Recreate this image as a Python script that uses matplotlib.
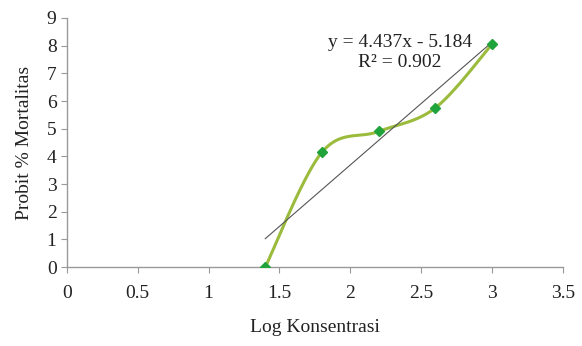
import numpy as np
import matplotlib.pyplot as plt

plt.rcParams['font.family'] = ['Liberation Serif', 'DejaVu Serif']

log_konsentrasi = [1.4, 1.8, 2.2, 2.6, 3.0]
probit = [0.0, 4.15, 4.9, 5.75, 8.05]
slope, intercept = 4.437, -5.184
r2 = 0.902


def excel_smooth(x, y, n=40):
    # Excel-like smoothed line: cubic Bezier with Catmull-Rom control points
    x = np.asarray(x, float)
    y = np.asarray(y, float)
    px, py = [], []
    for i in range(len(x) - 1):
        x0, y0 = (x[i - 1], y[i - 1]) if i > 0 else (x[i], y[i])
        x3, y3 = (x[i + 2], y[i + 2]) if i + 2 < len(x) else (x[i + 1], y[i + 1])
        c1x = x[i] + (x[i + 1] - x0) / 6
        c1y = y[i] + (y[i + 1] - y0) / 6
        c2x = x[i + 1] - (x3 - x[i]) / 6
        c2y = y[i + 1] - (y3 - y[i]) / 6
        t = np.linspace(0, 1, n)
        px.extend((1 - t) ** 3 * x[i] + 3 * (1 - t) ** 2 * t * c1x + 3 * (1 - t) * t ** 2 * c2x + t ** 3 * x[i + 1])
        py.extend((1 - t) ** 3 * y[i] + 3 * (1 - t) ** 2 * t * c1y + 3 * (1 - t) * t ** 2 * c2y + t ** 3 * y[i + 1])
    return np.array(px), np.array(py)


fig = plt.figure(figsize=(5.82, 3.46), dpi=100)
ax = fig.add_axes([0.115, 0.228, 0.852, 0.72])

sx, sy = excel_smooth(log_konsentrasi, probit)
ax.plot(sx, sy, color='#9BBB3C', lw=2.2, zorder=2)

tx = np.array([log_konsentrasi[0], log_konsentrasi[-1]])
ax.plot(tx, slope * tx + intercept, color='#555555', lw=0.8, zorder=3)

ax.plot(log_konsentrasi, probit, 'D', color='#1FA33A', markersize=5.5, zorder=4)

ax.text(2.35, 8.1, 'y = %.3fx - %.3f' % (slope, -intercept), ha='center', va='center', fontsize=14, color='#222222')
ax.text(2.35, 7.4, 'R² = %.3f' % r2, ha='center', va='center', fontsize=14, color='#222222')

ax.set_xlim(0, 3.5)
ax.set_ylim(0, 9)
ax.set_xticks(np.arange(0, 3.51, 0.5))
ax.set_xticklabels(['0', '0.5', '1', '1.5', '2', '2.5', '3', '3.5'])
ax.set_yticks(range(0, 10))

for s in ['top', 'right']:
    ax.spines[s].set_visible(False)
for s in ['left', 'bottom']:
    ax.spines[s].set_color('#999999')
    ax.spines[s].set_linewidth(1)
ax.tick_params(colors='#999999', labelcolor='#222222', labelsize=14, length=4, direction='out')
ax.tick_params(axis='x', pad=9)

ax.set_xlabel('Log Konsentrasi', fontsize=14, color='#222222', labelpad=12)
ax.set_ylabel('Probit % Mortalitas', fontsize=14, color='#222222', labelpad=10)

fig.savefig('out.png', dpi=100)
